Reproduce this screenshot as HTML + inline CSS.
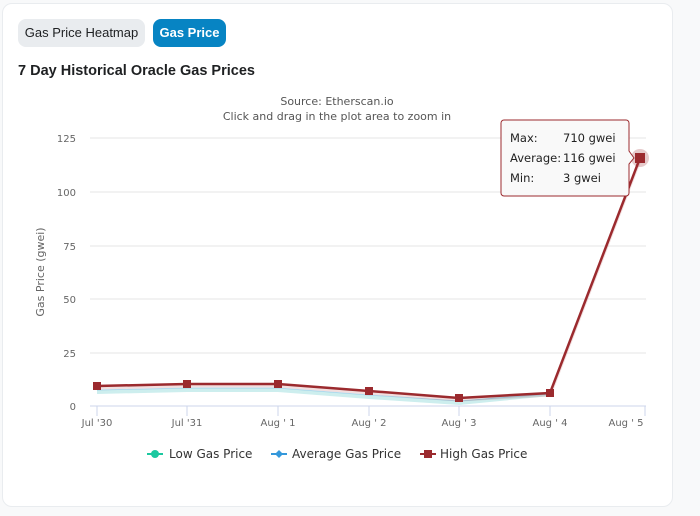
<!DOCTYPE html>
<html><head><style>
body{margin:0;width:700px;height:516px;background:#f8f9fa;font-family:"Liberation Sans",sans-serif;position:relative;overflow:hidden}
.card{position:absolute;left:2px;top:3px;width:669px;height:502px;background:#fff;border:1px solid #e9ecef;border-radius:10px}
.btn{position:absolute;top:19px;height:28px;line-height:28px;border-radius:8px;font-size:13px;white-space:nowrap;text-align:center}
</style></head><body>
<div class="card"></div>
<div class="btn" style="left:18px;width:127px;background:#e9ecef;color:#1e2022">Gas Price Heatmap</div>
<div class="btn" style="left:153px;width:73px;background:#0784c3;color:#fff;font-weight:bold">Gas Price</div>
<div style="position:absolute;left:18px;top:63px;font-size:14.5px;font-weight:bold;color:#1e2022;white-space:nowrap">7 Day Historical Oracle Gas Prices</div>
<svg width="700" height="516" style="position:absolute;left:0;top:0" font-family="DejaVu Sans,sans-serif">
<g fill="#555" font-size="11" text-anchor="middle">
<text x="337" y="105">Source: Etherscan.io</text>
<text x="337" y="120">Click and drag in the plot area to zoom in</text>
</g>
<g stroke="#e6e6e6">
<line x1="90" x2="646" y1="138" y2="138"/><line x1="90" x2="646" y1="192" y2="192"/><line x1="90" x2="646" y1="246" y2="246"/><line x1="90" x2="646" y1="299" y2="299"/><line x1="90" x2="646" y1="353" y2="353"/>
</g>
<line x1="90" x2="646" y1="406" y2="406" stroke="#ccd6eb"/>
<g stroke="#ccd6eb"><line x1="97" x2="97" y1="406" y2="416"/><line x1="187" x2="187" y1="406" y2="416"/><line x1="278" x2="278" y1="406" y2="416"/><line x1="369" x2="369" y1="406" y2="416"/><line x1="459" x2="459" y1="406" y2="416"/><line x1="550" x2="550" y1="406" y2="416"/><line x1="645" x2="645" y1="406" y2="416"/></g>
<g fill="#666" font-size="10" text-anchor="end">
<text x="76" y="142">125</text><text x="76" y="196">100</text><text x="76" y="250">75</text><text x="76" y="303">50</text><text x="76" y="357">25</text><text x="76" y="410">0</text>
</g>
<g fill="#666" font-size="10" text-anchor="middle">
<text x="97" y="426">Jul '30</text><text x="187" y="426">Jul '31</text><text x="278" y="426">Aug ' 1</text><text x="369" y="426">Aug ' 2</text><text x="459" y="426">Aug ' 3</text><text x="550" y="426">Aug ' 4</text><text x="626" y="426">Aug ' 5</text>
</g>
<text transform="translate(44,272) rotate(-90)" fill="#666" font-size="11" text-anchor="middle">Gas Price (gwei)</text>
<polyline points="97,392 187,390 278,390 369,397 459,403 550,394" fill="none" stroke="#cdeeee" stroke-width="4"/>
<polyline points="97,390 187,388 278,388 369,395 459,401 550,394" fill="none" stroke="#3498db" stroke-width="1" opacity=".3"/>
<polyline points="97,386 187,384 278,384 369,391 459,398 550,393 640,158" fill="none" stroke="#a52a2a" stroke-width="3" opacity=".15" transform="translate(0,2)"/>
<polyline points="97,386 187,384 278,384 369,391 459,398 550,393 640,158" fill="none" stroke="#9b2a2e" stroke-width="2.5"/>
<g fill="#9b2a2e">
<rect x="93" y="382" width="8" height="8"/><rect x="183" y="380" width="8" height="8"/><rect x="274" y="380" width="8" height="8"/><rect x="365" y="387" width="8" height="8"/><rect x="455" y="394" width="8" height="8"/><rect x="546" y="389" width="8" height="8"/>
</g>
<circle cx="640" cy="158" r="9" fill="#9b2a2e" opacity=".25"/>
<rect x="635" y="153" width="10" height="10" fill="#9b2a2e"/>
<path d="M504,120 H626 a3,3 0 0 1 3,3 V151 L634,158 L629,164 V193 a3,3 0 0 1 -3,3 H504 a3,3 0 0 1 -3,-3 V123 a3,3 0 0 1 3,-3z" fill="#f9f9f9" stroke="#9b2a2e" stroke-width="1"/>
<g font-size="11.5" fill="#222">
<text x="510" y="142">Max:</text><text x="563" y="142">710 gwei</text>
<text x="510" y="162">Average:</text><text x="563" y="162">116 gwei</text>
<text x="510" y="182">Min:</text><text x="563" y="182">3 gwei</text>
</g>
<g font-size="12" fill="#333">
<line x1="147" x2="163" y1="454" y2="454" stroke="#1cc8a0" stroke-width="2"/><circle cx="155" cy="454" r="4" fill="#1cc8a0"/>
<text x="169" y="458">Low Gas Price</text>
<line x1="271" x2="287" y1="454" y2="454" stroke="#3498db" stroke-width="2"/><path d="M279,450 L283,454 L279,458 L275,454z" fill="#3498db"/>
<text x="292" y="458">Average Gas Price</text>
<line x1="420" x2="436" y1="454" y2="454" stroke="#9b2a2e" stroke-width="2"/><rect x="424" y="450" width="8" height="8" fill="#9b2a2e"/>
<text x="440" y="458">High Gas Price</text>
</g>
</svg>
</body></html>
